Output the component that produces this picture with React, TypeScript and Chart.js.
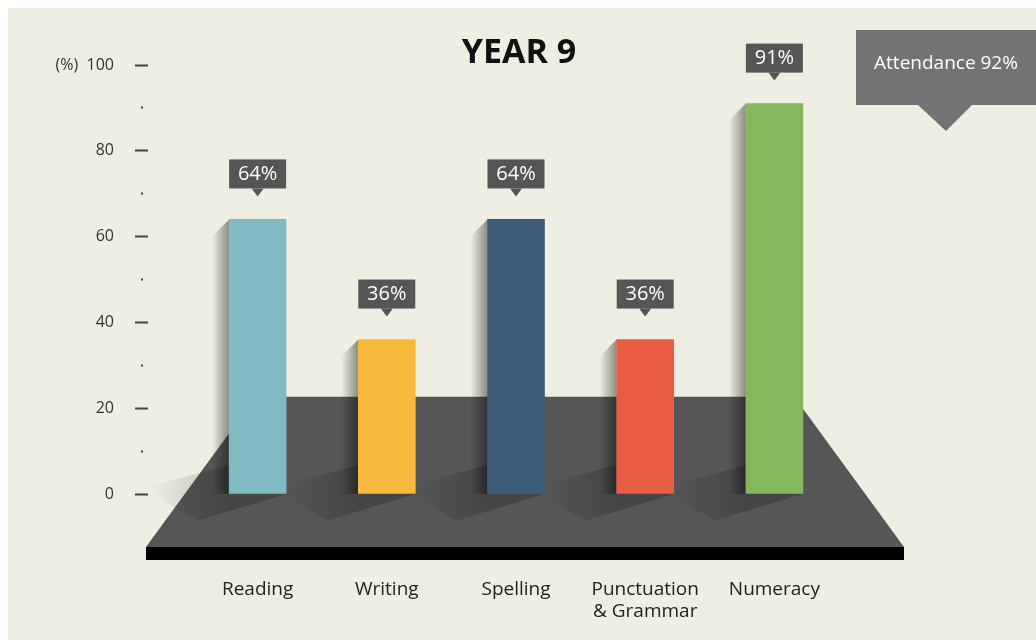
import { useEffect, useRef } from 'react';
import { Chart, registerables } from 'chart.js';

Chart.register(...registerables);

const TITLE = 'YEAR 9';
const categories: (string | string[])[] = ['Reading', 'Writing', 'Spelling', ['Punctuation', '& Grammar'], 'Numeracy'];
const scores = [64, 36, 64, 36, 91];
const barColors = ['#80BAC3', '#F6B83D', '#3D5C79', '#E95D45', '#85B85C'];
const yMin = 0;
const yMax = 100;
const yStep = 10;
const yLabelStep = 20;
const yUnit = '(%)';
const attendance = 92;

const FONT = '"Open Sans", "Noto Sans", "DejaVu Sans", sans-serif';

const decorPlugin = {
  id: 'decor',
  beforeDatasetsDraw(chart: any) {
    const ctx: CanvasRenderingContext2D = chart.ctx;
    const ca = chart.chartArea;
    const bars = chart.getDatasetMeta(0).data as any[];
    const base = chart.scales.y.getPixelForValue(0);
    const topY = base - 97;
    const botY = base + 53;
    const bl = ca.left - 47;
    const br = ca.right + 65;
    ctx.save();
    // platform
    ctx.fillStyle = '#565656';
    ctx.beginPath();
    ctx.moveTo(bars[0].x - 2, topY);
    ctx.lineTo(bars[bars.length - 1].x + 20, topY);
    ctx.lineTo(br, botY);
    ctx.lineTo(bl, botY);
    ctx.closePath();
    ctx.fill();
    ctx.fillStyle = 'rgba(0,0,0,0.15)';
    ctx.fillRect(bars[0].x - 2, topY - 1, bars[bars.length - 1].x + 22 - bars[0].x, 1);
    ctx.fillStyle = '#000000';
    ctx.fillRect(bl, botY, br - bl, 13);

    bars.forEach((b) => {
      const L = b.x - b.width / 2;
      const R = b.x + b.width / 2;
      const T = b.y;
      // floor shadow
      const D = 88;
      const g = ctx.createLinearGradient(L, 0, L - D + 10, 0);
      g.addColorStop(0, 'rgba(0,0,0,0.2)');
      g.addColorStop(1, 'rgba(0,0,0,0)');
      ctx.fillStyle = g;
      ctx.beginPath();
      ctx.moveTo(L, base - 29);
      ctx.lineTo(L, base);
      ctx.lineTo(R, base);
      ctx.lineTo(R - D, base + 0.3 * D);
      ctx.lineTo(L - D, base - 29 + 0.27 * D);
      ctx.closePath();
      ctx.fill();
      // side shading
      const sg = ctx.createLinearGradient(L, 0, L - 17, 0);
      sg.addColorStop(0, 'rgba(0,0,0,0.42)');
      sg.addColorStop(1, 'rgba(0,0,0,0)');
      ctx.fillStyle = sg;
      ctx.beginPath();
      ctx.moveTo(L, T);
      ctx.lineTo(L - 17, T + 17);
      ctx.lineTo(L - 17, base);
      ctx.lineTo(L, base);
      ctx.closePath();
      ctx.fill();
    });
    ctx.restore();
  },
  afterDatasetsDraw(chart: any) {
    const ctx: CanvasRenderingContext2D = chart.ctx;
    const bars = chart.getDatasetMeta(0).data as any[];
    ctx.save();
    bars.forEach((b, i) => {
      const w = b.width;
      const x0 = b.x - w / 2;
      const top = b.y - 60;
      ctx.fillStyle = '#555555';
      ctx.fillRect(x0, top, w, 29);
      ctx.beginPath();
      ctx.moveTo(b.x - 6, top + 29);
      ctx.lineTo(b.x + 6, top + 29);
      ctx.lineTo(b.x, top + 37);
      ctx.closePath();
      ctx.fill();
      ctx.fillStyle = '#ffffff';
      ctx.font = `20px ${FONT}`;
      ctx.textAlign = 'center';
      ctx.textBaseline = 'middle';
      ctx.fillText(`${scores[i]}%`, b.x, top + 15);
    });
    // attendance callout
    const W = chart.width;
    const bx = W - 180;
    ctx.fillStyle = '#737373';
    ctx.fillRect(bx, 22, 180, 75);
    ctx.beginPath();
    ctx.moveTo(bx + 62, 97);
    ctx.lineTo(bx + 116, 97);
    ctx.lineTo(bx + 90, 123);
    ctx.closePath();
    ctx.fill();
    ctx.fillStyle = '#ffffff';
    ctx.font = `19px ${FONT}`;
    ctx.textAlign = 'center';
    ctx.textBaseline = 'middle';
    ctx.fillText(`Attendance ${attendance}%`, bx + 90, 56);
    // title
    ctx.fillStyle = '#111111';
    ctx.font = `bold 34px ${FONT}`;
    ctx.fillText(TITLE, 511, 45);
    ctx.restore();
  },
};

export default function App() {
  const ref = useRef<HTMLCanvasElement>(null);
  useEffect(() => {
    if (!ref.current) return;
    const chart = new Chart(ref.current, {
      type: 'bar',
      data: {
        labels: categories as any,
        datasets: [
          {
            data: scores,
            backgroundColor: barColors,
            borderWidth: 0,
            barThickness: 57,
          },
        ],
      },
      options: {
        animation: false,
        responsive: true,
        maintainAspectRatio: false,
        layout: { padding: { left: 0, right: 197, top: 57, bottom: 0 } },
        plugins: {
          legend: { display: false },
          tooltip: { enabled: false },
          title: { display: false },
        },
        scales: {
          x: {
            grid: { display: false, drawTicks: false },
            border: { display: false },
            ticks: {
              padding: 85,
              color: '#222222',
              font: { family: FONT, size: 19, lineHeight: 1.15 },
              maxRotation: 0,
              autoSkip: false,
            },
            afterFit: (s: any) => {
              s.height = 146;
            },
          },
          y: {
            min: yMin,
            max: yMax,
            border: { display: false },
            grid: {
              drawOnChartArea: false,
              drawTicks: true,
              tickLength: 58,
              tickWidth: 2,
              tickColor: '#444444',
              tickBorderDash: (c: any) =>
                c.tick && c.tick.value % yLabelStep === 0 ? [13, 300] : [0, 6, 2, 300],
            } as any,
            ticks: {
              stepSize: yStep,
              autoSkip: false,
              padding: 21,
              color: '#333333',
              font: { family: FONT, size: 16 },
              callback: (v: any) => {
                const n = Number(v);
                if (n % yLabelStep !== 0) return '';
                return n === yMax ? `${yUnit}  ${n}` : String(n);
              },
            },
            afterFit: (s: any) => {
              s.width = 185;
            },
          },
        },
      },
      plugins: [decorPlugin],
    });
    return () => chart.destroy();
  }, []);
  return (
    <div
      style={{
        position: 'fixed',
        left: 8,
        top: 8,
        width: 1028,
        height: 632,
        background: '#EFEEE3',
      }}
    >
      <canvas ref={ref} />
    </div>
  );
}
